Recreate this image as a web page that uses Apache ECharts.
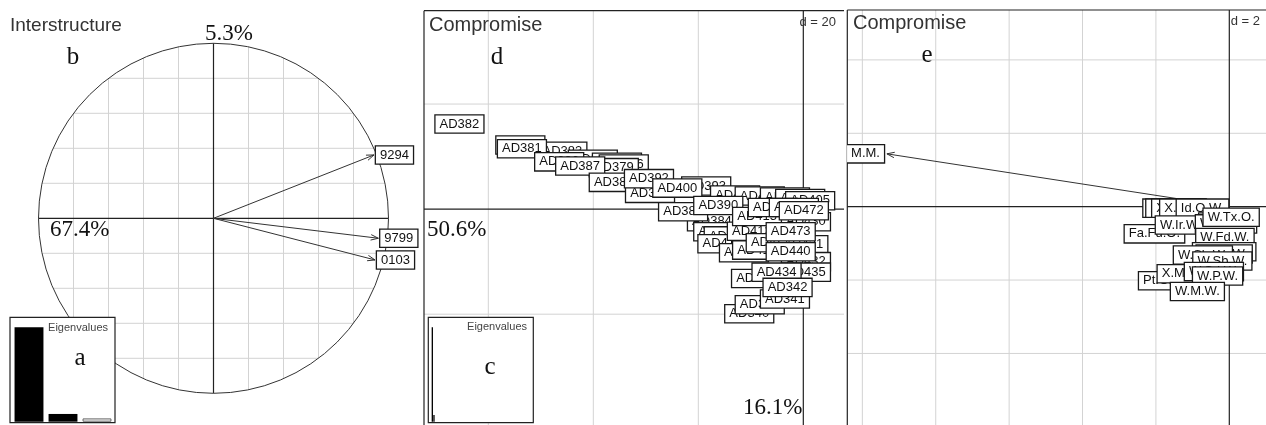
<!DOCTYPE html>
<html><head><meta charset="utf-8">
<script src="https://cdn.jsdelivr.net/npm/echarts@6/dist/echarts.min.js"></script>
<style>html,body{margin:0;padding:0;background:#fff}#c{width:1266px;height:425px}</style>
</head><body><div id="c"></div>
<script>
// ---------------- DATA ----------------
// Panel b : interstructure (correlation circle)
const interLabels = ['9294', '9799', '0103'];
const interCoords = [[0.917, 0.362], [0.942, -0.114], [0.923, -0.238]];
const interEig = [1, 0.082, 0.035];
const circleGrid = [-0.8, -0.6, -0.4, -0.2, 0.2, 0.4, 0.6, 0.8];

// Panel d : compromise (rows)
const rowLabels = ['AD382','AD380','AD383','AD381','AD378','AD377','AD376','AD379','AD386','AD387',
  'AD388','AD391','AD392','AD393','AD400','AD401','AD402','AD403','AD404','AD405',
  'AD384','AD389','AD385','AD390','AD410','AD411','AD412','AD413','AD414','AD415',
  'AD420','AD421','AD422','AD430','AD431','AD432','AD472','AD473','AD440','AD336',
  'AD435','AD434','AD340','AD350','AD341','AD342'];
const rowCoords = [[-65.5,16.2],[-53.9,12.2],[-45.9,11.0],[-53.6,11.5],[-40.1,9.5],[-35.5,8.9],[-34.2,8.6],[-36.1,7.9],[-46.5,9.0],[-42.5,8.2],
  [-36.1,5.1],[-29.2,3.0],[-29.4,5.8],[-18.5,4.4],[-24.0,4.0],[-13.0,2.7],[-8.3,2.5],[-3.5,2.3],[-0.6,2.0],[1.3,1.6],
  [-17.4,-2.4],[-16.2,-4.3],[-22.9,-0.5],[-16.2,0.7],[-14.2,-5.1],[-15.5,-6.6],[-11.3,-8.3],[-9.8,-4.2],[-8.8,-7.8],[-8.8,-1.4],
  [-5.8,0.3],[-1.8,0.3],[-6.2,-6.4],[0.5,-2.4],[0.0,-6.8],[0.5,-10.0],[0.1,-0.3],[-2.4,-4.3],[-2.4,-8.1],[-9.0,-13.2],
  [0.5,-12.0],[-5.1,-12.0],[-10.3,-19.9],[-8.3,-18.2],[-3.5,-17.1],[-3.0,-14.9]];
const rowEig = [100, 7, 2.5, 1.8, 1.5, 1.3, 1.1, 1.0, 0.9, 0.85, 0.8, 0.75, 0.7, 0.66, 0.62, 0.58, 0.55, 0.52, 0.49, 0.46,
  0.44, 0.42, 0.4, 0.38, 0.36, 0.34, 0.32, 0.3, 0.29, 0.28, 0.27, 0.26, 0.25, 0.24, 0.23, 0.22, 0.21, 0.2, 0.19, 0.18,
  0.17, 0.16, 0.15, 0.14, 0.13, 0.12, 0.11, 0.1, 0.09, 0.08, 0.07, 0.06, 0.05, 0.04, 0.035, 0.03, 0.025, 0.02, 0.015, 0.01];
const rowGridX = [-60, -40, -20];
const rowGridY = [20, -20];

// Panel e : compromise (columns, arrows)
const colLabels = ['M.M.','X.Fd.O.','X.Sb.O.','X.P.O.','X.Tx.W.','X.Ir.O.','Id.O.W.','Fa.Fd.O.','W.Ir.W.','W.Pl.W.',
  'W.Md.W.','W.Tx.O.','W.Fd.W.','W.Cm.W.','W.Hr.W.','W.Sh.W.','W.Sb.W.','Pt.Ct.W.','X.M.O.','W.Sd.W.','W.P.W.','W.M.W.'];
const colCoords = [[-9.33,1.44],[-1.62,-0.04],[-1.53,-0.04],[-1.45,-0.04],[-1.37,-0.04],[-1.27,-0.04],[-0.73,-0.04],[-2.04,-0.74],[-1.33,-0.50],[-0.09,-0.42],
  [-0.09,-0.47],[0.05,-0.29],[-0.12,-0.84],[-0.14,-1.23],[-0.14,-1.29],[-0.72,-1.32],[-0.19,-1.48],[-1.70,-2.02],[-1.29,-1.83],[-0.42,-1.77],[-0.32,-1.89],[-0.87,-2.31]];
const colGridX = [-10, -8, -6, -4, -2];
const colGridY = [4, 2, -2, -4];

// ---------------- RENDERING ----------------
const SANS = '"Liberation Sans", Arial, sans-serif';
const SERIF = '"Liberation Serif", "Times New Roman", serif';
const GRID_C = '#d3d3d3', AXIS_C = '#222';

function ln(a, b, color, w) {
  return { type: 'line', shape: { x1: a[0], y1: a[1], x2: b[0], y2: b[1] }, style: { stroke: color, lineWidth: w || 1 } };
}
function box(txt, x, y, align) {
  return { type: 'text', x: x, y: y, style: { text: txt, fontSize: 13, fontFamily: SANS, fill: '#111', align: align, verticalAlign: 'middle',
    backgroundColor: '#fff', borderColor: '#1a1a1a', borderWidth: 1.3, padding: [2, 4, 2, 4] } };
}
function head(p0, p1, L, ang) {
  const dx = p1[0] - p0[0], dy = p1[1] - p0[1];
  const len = Math.hypot(dx, dy);
  if (len < L * 1.5) return null;
  const ux = dx / len, uy = dy / len, cs = Math.cos(ang), sn = Math.sin(ang);
  const a = [p1[0] - L * (ux * cs - uy * sn), p1[1] - L * (uy * cs + ux * sn)];
  const b = [p1[0] - L * (ux * cs + uy * sn), p1[1] - L * (uy * cs - ux * sn)];
  return { type: 'polyline', shape: { points: [a, p1, b] }, style: { stroke: '#333', fill: 'none', lineWidth: 1 } };
}

function renderCircle(params, api) {
  const c = api.coord([0, 0]);
  const r = api.size([1, 0])[0];
  const ch = [];
  circleGrid.forEach(function (v) {
    const h = Math.sqrt(1 - v * v);
    ch.push(ln(api.coord([-h, v]), api.coord([h, v]), GRID_C));
    ch.push(ln(api.coord([v, -h]), api.coord([v, h]), GRID_C));
  });
  ch.push(ln(api.coord([-1, 0]), api.coord([1, 0]), AXIS_C, 1.2));
  ch.push(ln(api.coord([0, -1]), api.coord([0, 1]), AXIS_C, 1.2));
  ch.push({ type: 'circle', shape: { cx: c[0], cy: c[1], r: r }, style: { fill: 'none', stroke: '#333', lineWidth: 1 } });
  return { type: 'group', children: ch };
}
function renderInterArrow(params, api) {
  const p0 = api.coord([0, 0]);
  const p1 = api.coord([api.value(0), api.value(1)]);
  const ch = [ln(p0, p1, '#333')];
  const h = head(p0, p1, 8, 0.35); if (h) ch.push(h);
  ch.push(box(interLabels[params.dataIndex], p1[0] + 2, p1[1], 'left'));
  return { type: 'group', children: ch };
}
function framePanel(gx, gy) {
  return function (params, api) {
    const cs = params.coordSys;
    const L = cs.x, T = cs.y, R = cs.x + cs.width, B = cs.y + cs.height;
    const ch = [];
    gx.forEach(function (v) { const p = api.coord([v, 0]); ch.push(ln([p[0], T], [p[0], B], GRID_C)); });
    gy.forEach(function (v) { const p = api.coord([0, v]); ch.push(ln([L, p[1]], [R, p[1]], GRID_C)); });
    const o = api.coord([0, 0]);
    ch.push(ln([o[0], T], [o[0], B], AXIS_C, 1.2));
    ch.push(ln([L, o[1]], [R, o[1]], AXIS_C, 1.2));
    ch.push(ln([L, T], [R, T], AXIS_C, 1.2));
    ch.push(ln([L, T], [L, B], AXIS_C, 1.2));
    return { type: 'group', children: ch };
  };
}
function renderRow(params, api) {
  const p = api.coord([api.value(0), api.value(1)]);
  return box(rowLabels[params.dataIndex], p[0], p[1], 'center');
}
function renderColArrow(params, api) {
  const p0 = api.coord([0, 0]);
  const p1 = api.coord([api.value(0), api.value(1)]);
  const ch = [ln(p0, p1, '#333')];
  const h = head(p0, p1, 8, 0.35); if (h) ch.push(h);
  return { type: 'group', children: ch };
}
function renderColLabel(params, api) {
  const p0 = api.coord([0, 0]);
  const p1 = api.coord([api.value(0), api.value(1)]);
  const dx = p1[0] - p0[0];
  const len = Math.hypot(dx, p1[1] - p0[1]);
  const name = colLabels[params.dataIndex];
  if (len > 150) return box(name, p1[0] + (dx < 0 ? -3 : 3), p1[1], dx < 0 ? 'right' : 'left');
  return box(name, p1[0], p1[1], 'center');
}
function eigItems(vals, nBlack, restStyle) {
  return vals.map(function (v, i) {
    return { value: v, itemStyle: i < nBlack ? { color: '#000' } : restStyle };
  });
}
function txt(t, x, y, font, align, color) {
  return { type: 'text', x: x, y: y, z: 30, silent: true,
    style: { text: t, font: font, fill: color || '#111', align: align, textAlign: align, verticalAlign: 'middle', textVerticalAlign: 'middle' } };
}

const boxGrid = { show: true, backgroundColor: '#fff', borderColor: '#222', borderWidth: 1.2, z: 10, outerBoundsMode: 'none' };
const chart = echarts.init(document.getElementById('c'), null, { renderer: 'canvas', width: 1266, height: 425 });
chart.setOption({
  animation: false,
  backgroundColor: '#fff',
  grid: [
    { left: 38.5, top: 43.3, width: 350, height: 350, show: false, outerBoundsMode: 'none' },          // 0 panel b
    Object.assign({ left: 10, top: 317.3, width: 105, height: 105.4 }, boxGrid),                      // 1 inset a box
    { left: 12, top: 317.3, width: 102, height: 104.4, show: false, z: 11, outerBoundsMode: 'none' },  // 2 inset a bars
    { left: 424, top: 10.7, width: 420, height: 414.3, show: false, outerBoundsMode: 'none' },         // 3 panel d
    Object.assign({ left: 428.3, top: 317.3, width: 105, height: 105.4 }, boxGrid),                   // 4 inset c box
    { left: 431.5, top: 317.3, width: 99, height: 104.4, show: false, z: 11, outerBoundsMode: 'none' },// 5 inset c bars
    { left: 847.3, top: 10, width: 418.7, height: 415, show: false, outerBoundsMode: 'none' }           // 6 panel e
  ],
  xAxis: [
    { gridIndex: 0, type: 'value', min: -1, max: 1, show: false },
    { gridIndex: 1, type: 'value', min: 0, max: 1, show: false },
    { gridIndex: 2, type: 'category', data: interEig.map(function (_, i) { return String(i + 1); }), show: false },
    { gridIndex: 3, type: 'value', min: -72.25, max: 7.75, show: false },
    { gridIndex: 4, type: 'value', min: 0, max: 1, show: false },
    { gridIndex: 5, type: 'category', data: rowEig.map(function (_, i) { return String(i + 1); }), show: false },
    { gridIndex: 6, type: 'value', min: -10.41, max: 1.0, show: false }
  ],
  yAxis: [
    { gridIndex: 0, type: 'value', min: -1, max: 1, show: false },
    { gridIndex: 1, type: 'value', min: 0, max: 1, show: false },
    { gridIndex: 2, type: 'value', min: 0, max: function (v) { return v.max * 1.106; }, show: false },
    { gridIndex: 3, type: 'value', min: -41.09, max: 37.77, show: false },
    { gridIndex: 4, type: 'value', min: 0, max: 1, show: false },
    { gridIndex: 5, type: 'value', min: 0, max: function (v) { return v.max * 1.106; }, show: false },
    { gridIndex: 6, type: 'value', min: -5.95, max: 5.36, show: false }
  ],
  series: [
    { type: 'custom', xAxisIndex: 0, yAxisIndex: 0, data: [[0, 0]], renderItem: renderCircle, z: 2, clip: false, silent: true },
    { type: 'custom', xAxisIndex: 0, yAxisIndex: 0, data: interCoords, renderItem: renderInterArrow, z: 3, clip: false, silent: true },
    { type: 'bar', xAxisIndex: 2, yAxisIndex: 2, z: 12, barCategoryGap: '15%', silent: true,
      data: eigItems(interEig, 2, { color: '#f2f2f2', borderColor: '#666', borderWidth: 1 }) },
    { type: 'custom', xAxisIndex: 3, yAxisIndex: 3, data: [[0, 0]], renderItem: framePanel(rowGridX, rowGridY), z: 1, clip: false, silent: true },
    { type: 'custom', xAxisIndex: 3, yAxisIndex: 3, data: rowCoords, renderItem: renderRow, z: 3, clip: true, silent: true },
    { type: 'bar', xAxisIndex: 5, yAxisIndex: 5, z: 12, barCategoryGap: '20%', silent: true,
      data: eigItems(rowEig, 2, { color: '#fff' }) },
    { type: 'custom', xAxisIndex: 6, yAxisIndex: 6, data: [[0, 0]], renderItem: framePanel(colGridX, colGridY), z: 1, clip: false, silent: true },
    { type: 'custom', xAxisIndex: 6, yAxisIndex: 6, data: colCoords, renderItem: renderColArrow, z: 2, clip: true, silent: true },
    { type: 'custom', xAxisIndex: 6, yAxisIndex: 6, data: colCoords, renderItem: renderColLabel, z: 3, clip: true, silent: true }
  ],
  graphic: [
    txt('Interstructure', 10, 26, '19px ' + SANS, 'left', '#333'),
    txt('b', 73, 57, '25px ' + SERIF, 'center'),
    txt('5.3%', 229, 34, '23px ' + SERIF, 'center'),
    txt('67.4%', 50, 230, '23px ' + SERIF, 'left'),
    txt('a', 80, 358, '25px ' + SERIF, 'center'),
    txt('Eigenvalues', 108, 328, '11px ' + SANS, 'right', '#444'),
    txt('Compromise', 429, 25, '20px ' + SANS, 'left', '#333'),
    txt('d', 497, 57, '25px ' + SERIF, 'center'),
    txt('d = 20', 836, 22, '13px ' + SANS, 'right', '#333'),
    txt('50.6%', 427, 229.5, '23px ' + SERIF, 'left'),
    txt('16.1%', 743, 408, '23px ' + SERIF, 'left'),
    txt('c', 490, 367, '25px ' + SERIF, 'center'),
    txt('Eigenvalues', 527, 327, '11px ' + SANS, 'right', '#444'),
    txt('Compromise', 853, 23, '20px ' + SANS, 'left', '#333'),
    txt('e', 927, 55, '25px ' + SERIF, 'center'),
    txt('d = 2', 1260, 21.5, '13px ' + SANS, 'right', '#333')
  ]
});
</script></body></html>
